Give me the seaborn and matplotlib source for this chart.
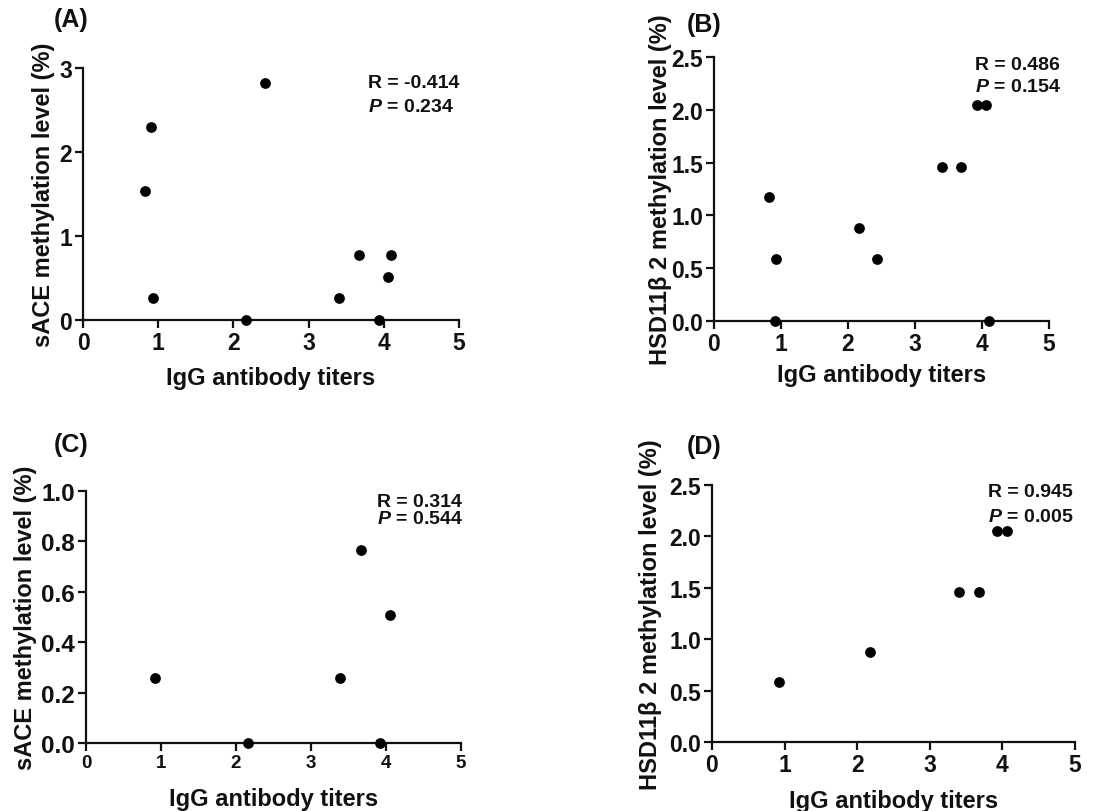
import matplotlib
matplotlib.use("Agg")
import matplotlib.pyplot as plt
import seaborn as sns
import pandas as pd

# ---- data ----
a_x = [0.82, 0.91, 0.93, 2.17, 2.42, 3.40, 3.67, 3.93, 4.06, 4.10]
a_y = [1.53, 2.30, 0.26, 0.00, 2.82, 0.26, 0.77, 0.00, 0.51, 0.77]

b_x = [0.82, 0.93, 0.91, 2.17, 2.43, 3.40, 3.68, 3.92, 4.06, 4.10]
b_y = [1.17, 0.585, 0.00, 0.877, 0.585, 1.46, 1.46, 2.05, 2.05, 0.00]

c_x = [0.92, 2.16, 3.39, 3.67, 3.92, 4.05]
c_y = [0.258, 0.00, 0.258, 0.767, 0.00, 0.506]

d_x = [0.92, 2.17, 3.40, 3.68, 3.93, 4.06]
d_y = [0.584, 0.877, 1.464, 1.464, 2.05, 2.05]

panel_labels = ["(A)", "(B)", "(C)", "(D)"]
y_labels = ["sACE methylation level (%)", "HSD11\u03b2 2 methylation level (%)",
            "sACE methylation level (%)", "HSD11\u03b2 2 methylation level (%)"]
x_label = "IgG antibody titers"
r_texts = ["R = -0.414", "R = 0.486", "R = 0.314", "R = 0.945"]
p_values = ["0.234", "0.154", "0.544", "0.005"]

a_yticks = [0, 1, 2, 3]
b_yticks = [0.0, 0.5, 1.0, 1.5, 2.0, 2.5]
c_yticks = [0.0, 0.2, 0.4, 0.6, 0.8, 1.0]
d_yticks = [0.0, 0.5, 1.0, 1.5, 2.0, 2.5]
x_ticks = [0, 1, 2, 3, 4, 5]

sns.set_style("ticks")
plt.rcParams['font.family'] = ['Liberation Sans', 'DejaVu Sans']
plt.rcParams['font.weight'] = 'bold'
plt.rcParams['axes.labelweight'] = 'bold'
plt.rcParams['mathtext.fontset'] = 'custom'
plt.rcParams['mathtext.it'] = 'Liberation Sans:italic:bold'
plt.rcParams['mathtext.bfit'] = 'Liberation Sans:italic:bold'

W, H = 1110, 812
fig = plt.figure(figsize=(W / 100, H / 100), dpi=100)
INK = "#111111"

def px_axes(left, top, right, bottom):
    return fig.add_axes([left / W, 1 - bottom / H, (right - left) / W, (bottom - top) / H])

panels = [
    dict(box=(83, 69, 459, 321), x=a_x, y=a_y, yticks=a_yticks, ylim=(0, 3), yfmt="{:.0f}",
         xtick_fs=16.5, ytick_fs=16.5, label_pos=(54, 20), txt=(368, 83, 107),
         ylab=-0.0745, xlab=-0.183),
    dict(box=(714, 58, 1049, 322), x=b_x, y=b_y, yticks=b_yticks, ylim=(0, 2.5), yfmt="{:.1f}",
         xtick_fs=16.5, ytick_fs=16.5, label_pos=(687, 25), txt=(975, 65, 88),
         ylab=-0.125, xlab=-0.159),
    dict(box=(86, 492, 461, 744), x=c_x, y=c_y, yticks=c_yticks, ylim=(0, 1.0), yfmt="{:.1f}",
         xtick_fs=13.5, ytick_fs=17.5, label_pos=(54, 445), txt=(377, 503, 520),
         ylab=-0.131, xlab=-0.175),
    dict(box=(712, 486, 1075, 743), x=d_x, y=d_y, yticks=d_yticks, ylim=(0, 2.5), yfmt="{:.1f}",
         xtick_fs=16.5, ytick_fs=16.5, label_pos=(687, 447), txt=(988, 493, 517),
         ylab=-0.138, xlab=-0.181),
]

for i, p in enumerate(panels):
    ax = px_axes(*p["box"])
    df = pd.DataFrame({"x": p["x"], "y": p["y"]})
    sns.scatterplot(data=df, x="x", y="y", ax=ax, color="black", s=60,
                    edgecolor="black", linewidth=0, clip_on=False, zorder=5, legend=False)
    ax.set_xlim(0, 5)
    ax.set_ylim(*p["ylim"])
    ax.set_xticks(x_ticks)
    ax.set_xticklabels([str(t) for t in x_ticks], fontsize=p["xtick_fs"], fontweight="bold")
    ax.set_yticks(p["yticks"])
    ax.set_yticklabels([p["yfmt"].format(t) for t in p["yticks"]], fontsize=p["ytick_fs"],
                       fontweight="bold")
    sns.despine(ax=ax)
    for s in ["left", "bottom"]:
        ax.spines[s].set_linewidth(1.6)
        ax.spines[s].set_color(INK)
    ax.tick_params(direction="out", length=6, width=1.6, color=INK, pad=2,
                   labelcolor=INK)
    ax.set_xlabel(x_label, fontsize=17, fontweight="bold", color=INK)
    ax.set_ylabel(y_labels[i], fontsize=17, fontweight="bold", color=INK)
    ax.yaxis.set_label_coords(p["ylab"], 0.5)
    ax.xaxis.set_label_coords(0.5, p["xlab"])
    fig.text(p["label_pos"][0] / W, 1 - p["label_pos"][1] / H, panel_labels[i],
             fontsize=18, fontweight="bold", va="center", ha="left", color=INK)
    tx, ry, py = p["txt"]
    fig.text(tx / W, 1 - ry / H, r_texts[i], fontsize=14, fontweight="bold",
             va="center", ha="left", color=INK)
    fig.text(tx / W, 1 - py / H, r"$\mathit{P}$" + " = " + p_values[i], fontsize=14,
             fontweight="bold", va="center", ha="left", color=INK)

fig.savefig("out.png", dpi=100, facecolor="white")
